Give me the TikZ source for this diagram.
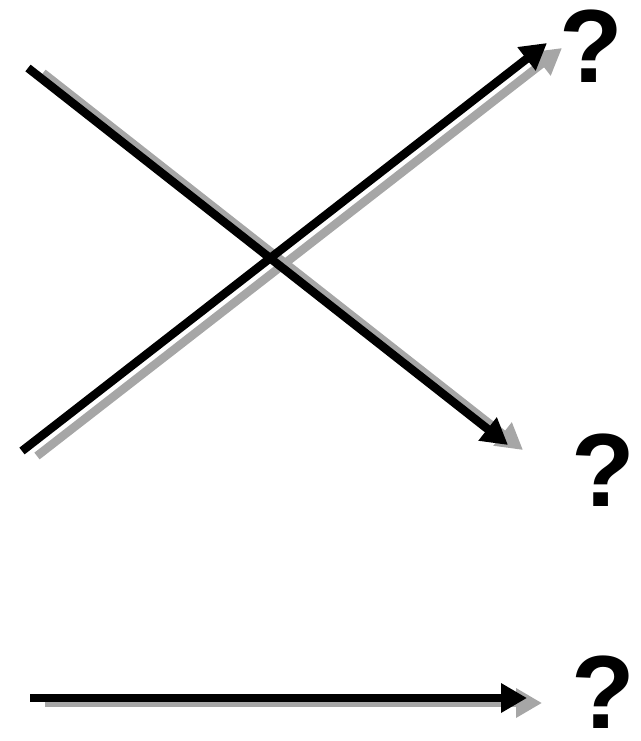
\documentclass[tikz,border=0pt]{standalone}
\usepackage{fontspec}
\setmainfont{Liberation Sans}
\usetikzlibrary{arrows.meta}
\definecolor{shadowgray}{HTML}{A6A6A6}

\begin{document}
\begin{tikzpicture}[x=1pt,y=-1pt,
  mainarrow/.style={line width=8.5pt,-{Triangle[length=26pt,width=28pt]}},
  shadow/.style={mainarrow,shadowgray,transform canvas={shift={(15,5)}}},
  qmark/.style={inner sep=0pt,font=\fontsize{104}{104}\bfseries\selectfont}]
  \useasboundingbox (0,0) rectangle (640,741);
  \coordinate (S1) at (28,68); \coordinate (T1) at (508,445);
  \coordinate (S2) at (22,451); \coordinate (T2) at (547,43);
  \coordinate (S3) at (30,698); \coordinate (T3) at (527,698);
  \node[qmark] (Q1) at (591,46) {?}; \node[qmark] (Q2) at (603,470) {?}; \node[qmark] (Q3) at (603,692) {?};
  \draw[shadow] (S1)--(T1); \draw[shadow] (S2)--(T2); \draw[shadow] (S3)--(T3);
  \draw[mainarrow] (S1)--(T1); \draw[mainarrow] (S2)--(T2); \draw[mainarrow] (S3)--(T3);
\end{tikzpicture}
\end{document}
